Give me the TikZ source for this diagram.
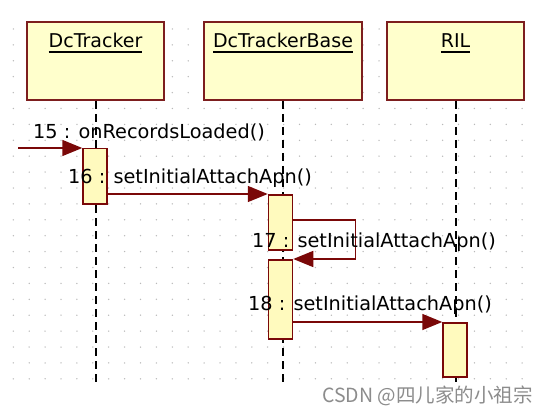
\documentclass[tikz,border=0pt]{standalone}
\usepackage{fontspec}
\setmainfont{DejaVu Sans}
\newfontfamily\cjkfont{Noto Sans CJK SC}
\usetikzlibrary{arrows.meta,calc}
\newcommand{\objname}[1]{\setbox0\hbox{#1}\rlap{\raisebox{-4.7pt}{\rule{\wd0}{1.6pt}}}\box0}
\definecolor{boxfill}{RGB}{255,255,204}
\definecolor{actfill}{RGB}{255,250,190}
\definecolor{boxline}{RGB}{125,30,30}
\definecolor{msgline}{RGB}{122,8,8}
\definecolor{griddot}{RGB}{185,185,185}
\tikzstyle{object}=[draw=boxline,fill=boxfill,line width=2pt,minimum height=78pt,anchor=north west,inner sep=0pt]
\tikzstyle{title}=[anchor=base,inner sep=0pt,font=\fontsize{19}{22}\selectfont]
\tikzstyle{activation}=[draw=msgline,fill=actfill,line width=1.5pt,minimum width=24pt,anchor=north,inner sep=0pt]
\tikzstyle{lifeline}=[draw=black,line width=2pt,dash pattern=on 8pt off 5pt]
\tikzstyle{message}=[draw=msgline,line width=1.5pt,-{Triangle[length=20pt,width=16pt]}]
\tikzstyle{msglabel}=[anchor=base west,inner sep=0pt,text=black,font=\fontsize{19.3}{22}\selectfont]
\tikzstyle{watermark}=[anchor=base west,inner sep=0pt,text=black!45,font=\cjkfont\fontsize{19.5}{22}\selectfont]

\begin{document}
\begin{tikzpicture}[x=1pt,y=-1pt]
    \useasboundingbox (0,0) rectangle (548,414);
    \fill[white] (0,0) rectangle (548,414);
    % dotted grid of the drawing sheet
    \foreach \i in {0,...,32}
        \foreach \j in {0,...,22}
            \fill[griddot] (13.3+15.9*\i,29+15.9*\j) circle (0.75pt);
    % the objects and their lifelines
    \foreach \pos/\name/\boxw in {{(26,21)/DcTracker/137}, {(203,21)/DcTrackerBase/158}, {(386,21)/RIL/137}}
    {
        \node[object,minimum width=\boxw pt] (\name) at \pos {};
        \node[title] (\name-title) at ($(\name.north)+(0,27)$) {\objname{\name}};
        \path[lifeline] (\name.south) -- (\name.south |- 0,383);
    }
    % activation bars
    \foreach \pos/\name/\len in {{(95,148)/act1/55}, {(280.5,194)/act2/55}, {(280.5,259)/act3/79}, {(455,322)/act4/54}}
        \node[activation,minimum height=\len pt] (\name) at \pos {};
    % calls between the bars
    \coordinate (caller) at (18,148);
    \path[message] (caller) -- (act1.north west);
    \path[message] (act1.east |- act2.north) -- (act2.north west);
    \path[message] ($(act2.north east)+(0,26)$) -- ++(62,0) |- (act3.north east);
    \path[message] (act3.east |- act4.north) -- (act4.north west);
    % call labels
    \foreach \pos/\name/\txt in {{(33,139)/call15/15 : onRecordsLoaded()}, {(68,183)/call16/16 : setInitialAttachApn()},
        {(252,247)/call17/17 : setInitialAttachApn()}, {(248,310)/call18/18 : setInitialAttachApn()}}
        \node[msglabel] (\name) at \pos {\txt};
    \node[watermark] (mark) at (322,402) {CSDN @四儿家的小祖宗};
\end{tikzpicture}
\end{document}
